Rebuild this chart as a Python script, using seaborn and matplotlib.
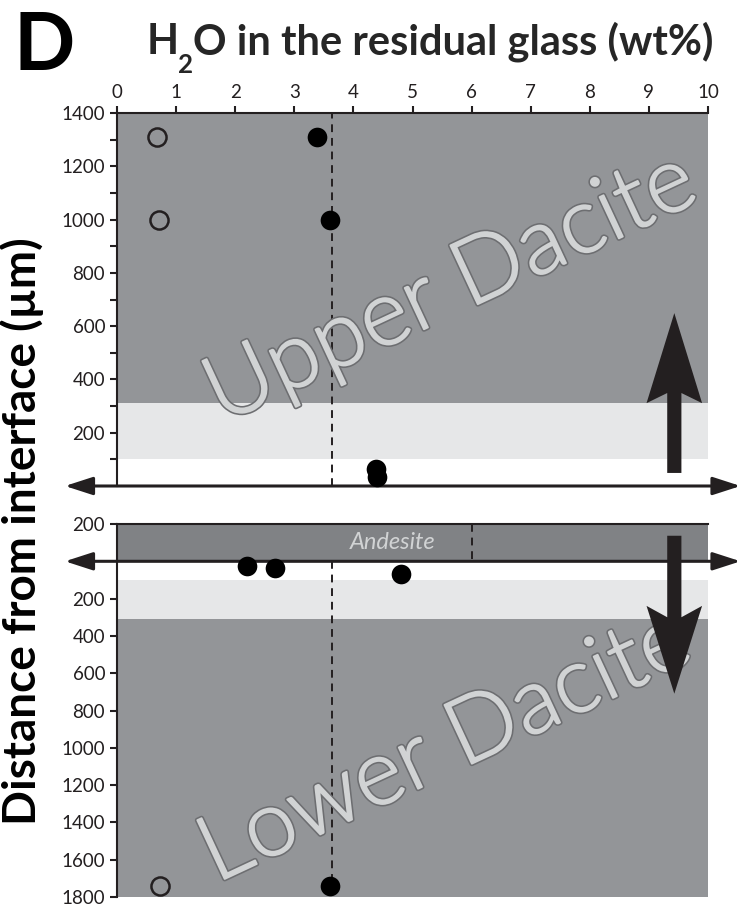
import numpy as np
import pandas as pd
import matplotlib
matplotlib.use("Agg")
import matplotlib.pyplot as plt
import matplotlib.patheffects as pe
from matplotlib.patches import Polygon
import seaborn as sns

# ---- data -------------------------------------------------------------
# upper dacite (distance above the interface, µm)
upper_open_h2o = [0.67, 0.71]
upper_open_dist = [1310, 1000]
upper_filled_h2o = [3.38, 3.60, 4.38, 4.40]
upper_filled_dist = [1310, 1000, 65, 35]

# lower dacite / andesite (distance below the interface, µm)
lower_open_h2o = [0.72]
lower_open_dist = [1740]
lower_filled_h2o = [2.20, 2.67, 4.80, 3.60]
lower_filled_dist = [24, 35, 67, 1740]

mean_h2o = 3.64          # dashed reference line
andesite_ref_h2o = 6.0   # dashed line in the andesite layer

x_ticks = list(range(0, 11))
upper_major = list(range(200, 1401, 200))
upper_minor = list(range(100, 1400, 200))
lower_ticks = [-200] + list(range(200, 1801, 200))

# ---- style ------------------------------------------------------------
sns.set_style("ticks")
plt.rcParams["font.family"] = ["Lato", "DejaVu Sans"]

INK = "#231f20"
DARK = "#939598"
LIGHT = "#e6e7e8"
ANDESITE = "#808285"

W, H = 741, 908
fig = plt.figure(figsize=(W / 100, H / 100), dpi=100)

left = 117 / W
width = 591 / W
ax1 = fig.add_axes([left, 1 - 486 / H, width, 373 / H])
ax2 = fig.add_axes([left, 1 - 897 / H, width, 373 / H])

for ax in (ax1, ax2):
    ax.set_xlim(0, 10)
    for s in ("right", "bottom"):
        ax.spines[s].set_visible(False)
    for s in ("top", "left"):
        ax.spines[s].set_color(INK)
        ax.spines[s].set_linewidth(1.5)
    ax.tick_params(colors=INK, labelcolor=INK, labelsize=13.5, width=1.5, length=5)
    ax.tick_params(which="minor", colors=INK, width=1.5, length=5)

# ---- upper panel --------------------------------------------------------
ax1.set_ylim(0, 1400)
ax1.axhspan(310, 1400, color=DARK, lw=0, zorder=0)
ax1.axhspan(100, 310, color=LIGHT, lw=0, zorder=0)
ax1.xaxis.tick_top()
ax1.set_xticks(x_ticks)
ax1.set_xticklabels([str(v) for v in x_ticks])
ax1.set_yticks(upper_major)
ax1.set_yticks(upper_minor, minor=True)
ax1.axvline(mean_h2o, color=INK, lw=1.4, ls=(0, (4, 3)), zorder=2)

sns.scatterplot(x=upper_open_h2o, y=upper_open_dist, ax=ax1, s=170,
                color=DARK, edgecolor=INK, linewidth=1.8, zorder=5)
sns.scatterplot(x=upper_filled_h2o, y=upper_filled_dist, ax=ax1, s=200,
                color="black", edgecolor="black", linewidth=0, zorder=5,
                clip_on=False)

# ---- lower panel --------------------------------------------------------
ax2.set_ylim(1800, -200)
ax2.axhspan(-200, 0, color=ANDESITE, lw=0, zorder=0)
ax2.axhspan(100, 310, color=LIGHT, lw=0, zorder=0)
ax2.axhspan(310, 1800, color=DARK, lw=0, zorder=0)
ax2.set_xticks([])
ax2.set_yticks(lower_ticks)
ax2.set_yticklabels([str(abs(v)) for v in lower_ticks])
ax2.vlines(mean_h2o, 0, 1800, color=INK, lw=1.4, ls=(0, (4, 3)), zorder=2)
ax2.vlines(andesite_ref_h2o, -200, 0, color=INK, lw=1.4, ls=(0, (4, 3)), zorder=2)

sns.scatterplot(x=lower_open_h2o, y=lower_open_dist, ax=ax2, s=170,
                color=DARK, edgecolor=INK, linewidth=1.8, zorder=5)
sns.scatterplot(x=lower_filled_h2o, y=lower_filled_dist, ax=ax2, s=200,
                color="black", edgecolor="black", linewidth=0, zorder=5,
                clip_on=False)

for ax in (ax1, ax2):
    ax.set_xlabel("")
    ax.set_ylabel("")

ax2.text(4.67, -100, "Andesite", style="italic", color="#d1d3d4",
         fontsize=17, ha="center", va="center", zorder=3)

# ---- interface lines (double-headed) -----------------------------------
for ax in (ax1, ax2):
    ax.annotate("", xy=(10.55, 0), xytext=(-0.88, 0),
                arrowprops=dict(arrowstyle="<|-|>,head_length=1.7,head_width=0.55",
                                color=INK, lw=2.2, shrinkA=0, shrinkB=0),
                annotation_clip=False, zorder=4)


# ---- large direction arrows ---------------------------------------------
def big_arrow(ax, xc, y0, y_join, y_barb, y_tip, shaft=0.12, head=0.47):
    verts = [(xc - shaft, y0), (xc - shaft, y_join), (xc - head, y_barb),
             (xc, y_tip), (xc + head, y_barb), (xc + shaft, y_join),
             (xc + shaft, y0)]
    ax.add_patch(Polygon(verts, closed=True, color=INK, lw=0, zorder=6,
                         clip_on=False))


big_arrow(ax1, 9.43, 49, 349, 311, 649)
big_arrow(ax2, 9.43, -137, 300, 239, 710)

# ---- layer names (hollow lettering) --------------------------------------
outline = [pe.Stroke(linewidth=3.6, foreground="#6d6e71"),
           pe.Stroke(linewidth=1.3, foreground="#d1d3d4"),
           pe.Normal()]
ax1.text(0.565, 0.53, "Upper Dacite", transform=ax1.transAxes, rotation=25,
         fontsize=66, fontweight=300, color="#d1d3d4", ha="center",
         va="center", path_effects=outline, zorder=3)
ax2.text(0.555, 0.40, "Lower Dacite", transform=ax2.transAxes, rotation=25,
         fontsize=66, fontweight=300, color="#d1d3d4", ha="center",
         va="center", path_effects=outline, zorder=3)

# ---- titles --------------------------------------------------------------
renderer = fig.canvas.get_renderer()
title_size = 30
base_y = 1 - 54 / H
t_h = fig.text(0, base_y, "H", fontsize=title_size, fontweight="bold",
               ha="left", va="baseline")
t_2 = fig.text(0, base_y, "2", fontsize=title_size * 0.62, fontweight="bold",
               ha="left", va="top")
t_rest = fig.text(0, base_y, "O in the residual glass (wt%)", fontsize=title_size,
                  fontweight="bold", ha="left", va="baseline")
w_h = t_h.get_window_extent(renderer).width
w_2 = t_2.get_window_extent(renderer).width
w_r = t_rest.get_window_extent(renderer).width
x0 = 430 - (w_h + w_2 + w_r) / 2
t_h.set_x(x0 / W)
t_2.set_x((x0 + w_h) / W)
t_2.set_y(base_y + 1 / H)
t_rest.set_x((x0 + w_h + w_2) / W)

fig.text(13 / W, 1 - 70 / H, "D", fontsize=58, fontweight="bold",
         color="black", ha="left", va="baseline")
fig.text(22 / W, 1 - 531 / H, "Distance from interface (µm)", fontsize=33,
         fontweight="bold", color="black", rotation=90, ha="center",
         va="center")

fig.savefig("out.png", dpi=100)
